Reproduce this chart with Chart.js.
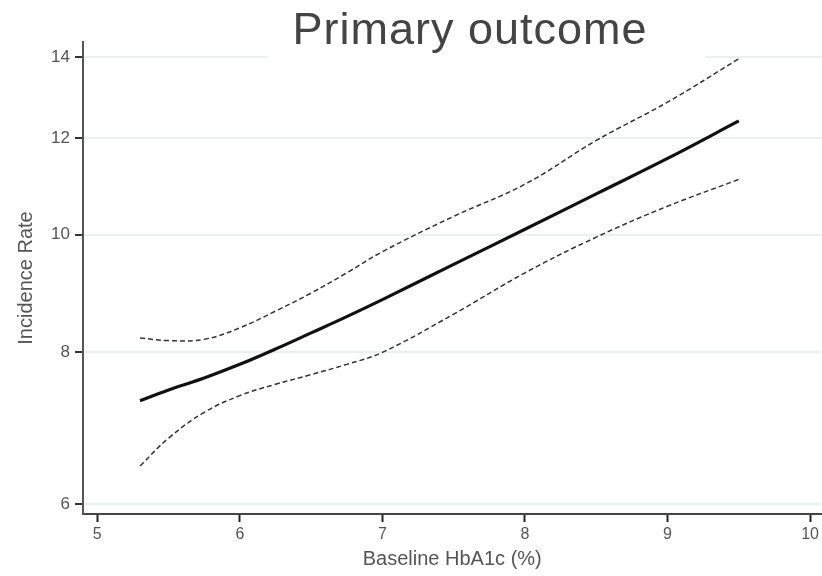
<!DOCTYPE html>
<html>
<head>
<meta charset="utf-8">
<script src="https://cdn.jsdelivr.net/npm/chart.js@4.4.1/dist/chart.umd.min.js"></script>
<style>
  html, body { margin:0; padding:0; background:#fff; }
  #wrap { position:relative; width:822px; height:576px; }
</style>
</head>
<body>
<div id="wrap"><canvas id="rateChart" width="822" height="576"></canvas></div>
<script>
// values
var hba1c = [5.3, 5.5, 5.75, 6, 6.25, 6.5, 6.75, 7, 7.5, 8, 8.5, 9, 9.5];
var rate  = [7.30, 7.45, 7.62, 7.82, 8.05, 8.30, 8.56, 8.84, 9.45, 10.1, 10.8, 11.55, 12.4];
var upper = [8.22, 8.18, 8.20, 8.38, 8.65, 8.95, 9.30, 9.68, 10.35, 11.0, 11.95, 12.85, 13.95];
var lower = [6.45, 6.80, 7.14, 7.37, 7.53, 7.67, 7.82, 8.00, 8.60, 9.30, 9.95, 10.55, 11.1];
var xTicks = [5, 6, 7, 8, 9, 10];
var yTicks = [6, 8, 10, 12, 14];

function pts(ys) {
    return hba1c.map(function(x, i){ return {x:x, y:ys[i]}; });
}

// title sits on a white box over the top gridline
var titleBox = {
    id:'titleBox',
    afterDraw:function(chart){
        var ctx = chart.ctx;
        ctx.save();
        ctx.fillStyle = '#fff';
        ctx.fillRect(268, 0, 437, 58);
        ctx.fillStyle = '#444';
        ctx.font = '45px "Liberation Sans", Arial, sans-serif';
        ctx.letterSpacing = '1px';
        ctx.textAlign = 'center';
        ctx.textBaseline = 'alphabetic';
        ctx.fillText('Primary outcome', 470, 44);
        ctx.restore();
    }
};

var chart = new Chart($id('rateChart'), {
    type:'line',
    data:{
        datasets:[{
            label:'Incidence Rate',
            data:pts(rate),
            borderColor:'#111',
            borderWidth:3.2,
            pointRadius:0,
            tension:0.4
        },{
            label:'Upper',
            data:pts(upper),
            borderColor:'#333',
            borderWidth:1.5,
            borderDash:[5,3],
            pointRadius:0,
            tension:0.4
        },{
            label:'Lower',
            data:pts(lower),
            borderColor:'#333',
            borderWidth:1.5,
            borderDash:[5,3],
            pointRadius:0,
            tension:0.4
        }]
    },
    options:{
        responsive:false,
        animation:false,
        layout:{ padding:{ top:42, left:6, right:0, bottom:0 } },
        plugins:{ legend:{ display:false }, tooltip:{ enabled:false } },
        scales:{
            x:{
                type:'linear',
                min:4.9,
                max:10.08,
                afterBuildTicks:function(s){ s.ticks = xTicks.map(function(v){ return {value:v}; }); },
                afterFit:function(s){ s.height = 62; },
                border:{ color:'#444', width:2 },
                grid:{ drawOnChartArea:false, tickLength:8, tickColor:'#222', tickWidth:2 },
                ticks:{ color:'#555', padding:3, maxRotation:0,
                        font:{ family:'"Liberation Sans", Arial, sans-serif', size:16 } },
                title:{ display:true, text:'Baseline HbA1c (%)', color:'#555', padding:{ top:0, bottom:5 },
                        font:{ family:'"Liberation Sans", Arial, sans-serif', size:20 } }
            },
            y:{
                type:'logarithmic',
                min:5.89,
                max:14.4,
                afterBuildTicks:function(s){ s.ticks = yTicks.map(function(v){ return {value:v}; }); },
                afterFit:function(s){ s.width = 77; },
                border:{ color:'#555', width:2 },
                grid:{ color:'#eaf0f0', lineWidth:2, tickLength:8, tickColor:'#333', tickWidth:2 },
                ticks:{ color:'#555', padding:5, callback:function(v){ return v; },
                        font:{ family:'"Liberation Sans", Arial, sans-serif', size:17 } },
                title:{ display:true, text:'Incidence Rate', color:'#555', padding:{ top:8, bottom:0 },
                        font:{ family:'"Liberation Sans", Arial, sans-serif', size:20 } }
            }
        }
    },
    plugins:[titleBox]
});

function $id(id){ return document.getElementById(id); }
</script>
</body>
</html>
